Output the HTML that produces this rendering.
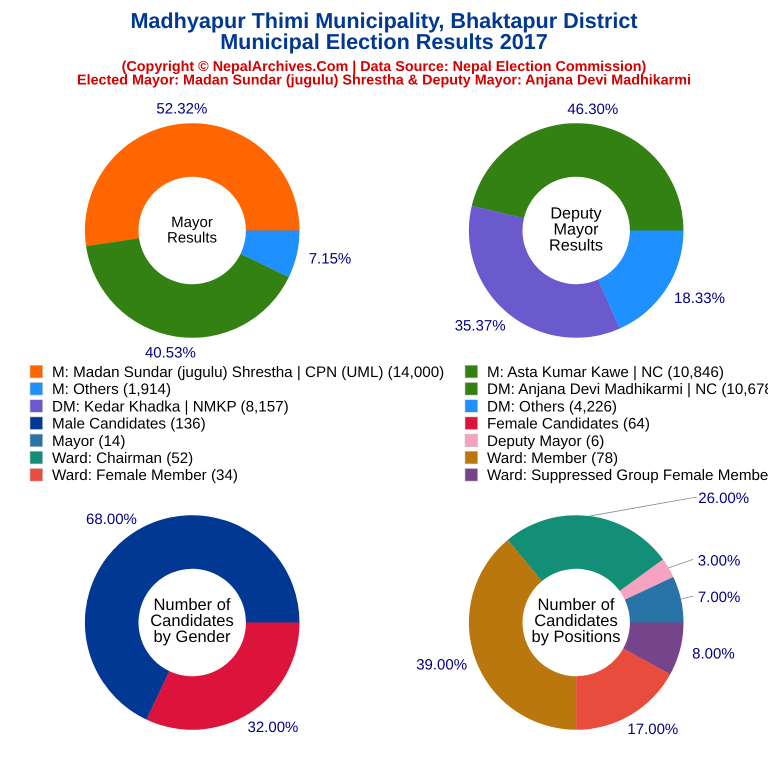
<!DOCTYPE html>
<html lang="en">
<head>
<meta charset="utf-8">
<title>Madhyapur Thimi Municipality Election Results 2017</title>
<style>
html,body{margin:0;padding:0;background:#fff;width:768px;height:768px;overflow:hidden}
svg{display:block;font-family:"Liberation Sans",Arial,sans-serif;text-rendering:geometricPrecision}
</style>
</head>
<body>
<svg id="chart" width="768" height="768" viewBox="0 0 768 768" xmlns="http://www.w3.org/2000/svg">
  <rect width="768" height="768" fill="#fff"/>
  <g text-anchor="middle" font-weight="bold">
    <text x="384" y="28" font-size="21.6" fill="#003893">Madhyapur Thimi Municipality, Bhaktapur District</text>
    <text x="384" y="49" font-size="21.6" fill="#003893">Municipal Election Results 2017</text>
    <text x="384" y="71" font-size="14.35" fill="#d40000">(Copyright © NepalArchives.Com | Data Source: Nepal Election Commission)</text>
    <text x="384" y="84.5" font-size="14.35" fill="#d40000">Elected Mayor: Madan Sundar (jugulu) Shrestha &amp; Deputy Mayor: Anjana Devi Madhikarmi</text>
  </g>
  <g id="donuts"></g>
  <g id="legend"></g>
  <g text-anchor="middle" fill="#000">
    <text x="192" y="227" font-size="15">Mayor</text>
    <text x="192" y="242.3" font-size="15">Results</text>
    <text x="576" y="218.3" font-size="16.2">Deputy</text>
    <text x="576" y="234.5" font-size="16.2">Mayor</text>
    <text x="576" y="250.5" font-size="16.2">Results</text>
    <text x="192" y="610" font-size="16.5">Number of</text>
    <text x="192" y="626" font-size="16.5">Candidates</text>
    <text x="192" y="642" font-size="16.5">by Gender</text>
    <text x="576" y="610" font-size="16.5">Number of</text>
    <text x="576" y="626" font-size="16.5">Candidates</text>
    <text x="576" y="642" font-size="16.5">by Positions</text>
  </g>
</svg>
<script>
const mayorNames = ['M: Madan Sundar (jugulu) Shrestha | CPN (UML)', 'M: Asta Kumar Kawe | NC', 'M: Others'];
const mayorValues = [14000, 10846, 1914];
const deputyNames = ['DM: Anjana Devi Madhikarmi | NC', 'DM: Kedar Khadka | NMKP', 'DM: Others'];
const deputyValues = [10678, 8157, 4226];
const genderNames = ['Male Candidates', 'Female Candidates'];
const genderValues = [136, 64];
const positionNames = ['Mayor', 'Deputy Mayor', 'Ward: Chairman', 'Ward: Member', 'Ward: Female Member', 'Ward: Suppressed Group Female Member'];
const positionValues = [14, 6, 52, 78, 34, 16];

const NS = 'http://www.w3.org/2000/svg';
const mayorColors = ['#FF6600', '#338013', '#1E90FF'];
const deputyColors = ['#338013', '#6A5ACD', '#1E90FF'];
const genderColors = ['#003893', '#DC143C'];
const positionColors = ['#2874A6', '#F5A3C0', '#148F77', '#B9770E', '#E74C3C', '#76448A'];

const OUTER = 107.3, INNER = 53.7, LABEL_RX = 140, LABEL_BUMP = 7, LABEL_RY = 123;
const donutLayer = document.getElementById('donuts');
const legendLayer = document.getElementById('legend');

function make(tag, attrs, parent) {
  const el = document.createElementNS(NS, tag);
  for (const k in attrs) el.setAttribute(k, attrs[k]);
  parent.appendChild(el);
  return el;
}
function point(cx, cy, rx, ry, frac) {
  const a = frac * 2 * Math.PI;
  return [cx + rx * Math.cos(a), cy - ry * Math.sin(a)];
}
function labelPoint(cx, cy, frac) {
  const a = frac * 2 * Math.PI;
  const bump = LABEL_BUMP * Math.pow(Math.sin(2 * a), 2) * Math.sign(Math.cos(a));
  return [cx + LABEL_RX * Math.cos(a) + bump, cy - LABEL_RY * Math.sin(a)];
}
function slicePath(cx, cy, from, to) {
  const large = to - from > 0.5 ? 1 : 0;
  const p1 = point(cx, cy, OUTER, OUTER, from), p2 = point(cx, cy, OUTER, OUTER, to);
  const p3 = point(cx, cy, INNER, INNER, to), p4 = point(cx, cy, INNER, INNER, from);
  return 'M' + p1[0] + ' ' + p1[1] + 'A' + OUTER + ' ' + OUTER + ' 0 ' + large + ' 0 ' + p2[0] + ' ' + p2[1] +
         'L' + p3[0] + ' ' + p3[1] + 'A' + INNER + ' ' + INNER + ' 0 ' + large + ' 1 ' + p4[0] + ' ' + p4[1] + 'Z';
}
function drawDonut(key, cx, cy, values, colors, repel) {
  const group = make('g', {}, donutLayer);
  
  
  const total = values.reduce((a, b) => a + b, 0);
  let cum = 0;
  values.forEach((v, i) => {
    const from = cum / total, to = (cum + v) / total, mid = (from + to) / 2;
    cum += v;
    const slice = make('path', { d: slicePath(cx, cy, from, to), fill: colors[i] }, group);
    
    
    let pos = labelPoint(cx, cy, mid);
    const shift = repel[i];
    if (shift) {
      pos = [pos[0] + shift[0], pos[1] + shift[1]];
      const edge = point(cx, cy, OUTER, OUTER, mid);
      const leader = make('line', { x1: edge[0], y1: edge[1], x2: pos[0] - shift[2], y2: pos[1] - 0.5, stroke: '#8a8a8a', 'stroke-width': 0.8 }, group);
      
      
    }
    const label = make('text', { x: pos[0], y: pos[1] + 5.5, 'text-anchor': 'middle', 'font-size': 15, fill: '#000080' }, group);
    
    
    label.textContent = (v / total * 100).toFixed(2) + '%';
  });
}
drawDonut('mayor', 192.2, 230.5, mayorValues, mayorColors, {});
drawDonut('deputy', 576.2, 230.5, deputyValues, deputyColors, {});
drawDonut('gender', 192.2, 622.5, genderValues, genderColors, {});
drawDonut('positions', 576.2, 622.5, positionValues, positionColors, { 0: [5, 1, 26], 1: [17, 0, 26], 2: [129.5, -3, 27] });

const legendEntries = [];
function collect(names, values, colors) {
  names.forEach((n, i) => legendEntries.push({ name: n, value: values[i], color: colors[i] }));
}
collect(mayorNames, mayorValues, mayorColors);
collect(deputyNames, deputyValues, deputyColors);
collect(genderNames, genderValues, genderColors);
collect(positionNames, positionValues, positionColors);
legendEntries.forEach((e, n) => {
  const col = n % 2, row = Math.floor(n / 2);
  const y = 371.5 + row * 17.2;
  const x = col === 0 ? 30 : 465;
  const entry = make('g', {}, legendLayer);
  
  
  const swatch = make('rect', { x: x, y: y - 6.2, width: 12.6, height: 12.6, fill: e.color, stroke: '#c8c8c8', 'stroke-width': 0.6 }, entry);
  
  
  const text = make('text', { x: x + 22, y: y + 5.5, 'font-size': 15.2, fill: '#000' }, entry);
  
  
  text.textContent = e.name + ' (' + e.value.toLocaleString('en-US') + ')';
});
</script>
</body>
</html>
